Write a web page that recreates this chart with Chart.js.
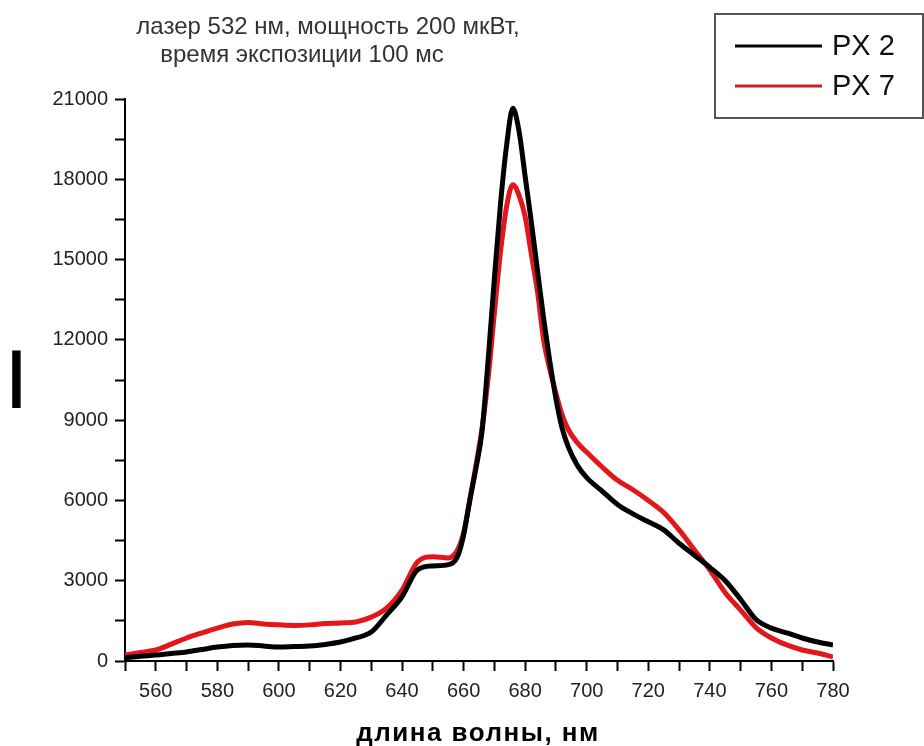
<!DOCTYPE html>
<html>
<head>
<meta charset="utf-8">
<script src="https://cdn.jsdelivr.net/npm/chart.js@4/dist/chart.umd.min.js"></script>
<style>
  html, body { margin: 0; padding: 0; background: #fff; }
  #wrap { width: 924px; height: 746px; }
</style>
</head>
<body>
<div id="wrap"><canvas id="spectrum" width="924" height="746"></canvas></div>
<script>
// Спектры люминесценции, значения

const wavelengths = [
  550, 555, 560, 565, 570, 575, 580, 585, 590, 595, 600, 605, 610, 615, 620, 625,
  630, 635, 640, 645, 650, 655, 658, 660, 662, 664, 666, 668, 670, 672, 674, 676,
  678, 680, 682, 684, 686, 688, 690, 692, 694, 697, 700, 705, 710, 715, 720, 725,
  730, 735, 740, 745, 750, 755, 760, 765, 770, 775, 780
];

const px2Values = [
  120, 180, 220, 280, 340, 430, 520, 580, 600, 560, 520, 540, 560, 620, 710, 860,
  1080, 1720, 2400, 3400, 3550, 3600, 3900, 4700, 6000, 7200, 8600, 11300, 14300, 17100, 19300, 20650,
  19800, 18100, 16400, 14600, 12800, 11200, 9800, 8700, 8000, 7300, 6850, 6350, 5850, 5500, 5200, 4900,
  4400, 3950, 3500, 3000, 2300, 1550, 1230, 1050, 860, 710, 600
];

const px7Values = [
  220, 320, 410, 630, 860, 1050, 1230, 1380, 1440, 1380, 1350, 1330, 1350, 1400, 1420, 1460,
  1640, 1980, 2650, 3700, 3900, 3850, 4150, 4800, 6000, 7300, 8700, 10600, 13000, 15300, 17000, 17800,
  17400, 16600, 15200, 13800, 12000, 10900, 10000, 9200, 8650, 8150, 7800, 7250, 6750, 6400, 6000, 5550,
  4900, 4150, 3400, 2550, 1900, 1250, 860, 600, 410, 300, 150
];

const seriesLabels = ['PX 2', 'PX 7'];
const titleLines = ['лазер 532 нм, мощность 200 мкВт,', 'время экспозиции 100 мс'];
const xAxisTitle = 'длина волны, нм';
const yAxisTitle = 'I';

const xMajorStep = 20, xMinorStep = 10;
const yMajorStep = 3000, yMinorStep = 1500;

function toPoints(values) {
  return wavelengths.map((w, i) => ({ x: w, y: values[i] }));
}

const fontFamily = '"Liberation Sans", Arial, sans-serif';

// подписи и легенда рисуются поверх
const decorations = {
  id: 'decorations',
  afterDraw(chart) {
    const ctx = chart.ctx;
    ctx.save();

    // заголовок
    ctx.fillStyle = '#333';
    ctx.font = '24px ' + fontFamily;
    ctx.textAlign = 'center';
    ctx.textBaseline = 'middle';
    ctx.fillText(titleLines[0], 328, 27);
    ctx.fillText(titleLines[1], 302, 55);

    // подпись оси X
    ctx.fillStyle = '#000';
    ctx.font = 'bold 26px ' + fontFamily;
    ctx.letterSpacing = '1.5px';
    ctx.fillText(xAxisTitle, 478, 734);
    ctx.letterSpacing = '0px';

    // буква I у оси Y
    ctx.save();
    ctx.translate(16.5, 408);
    ctx.scale(0.7, 1);
    ctx.font = 'bold 84px ' + fontFamily;
    ctx.textBaseline = 'alphabetic';
    ctx.fillText(yAxisTitle, 0, 0);
    ctx.restore();

    // легенда
    ctx.strokeStyle = '#555';
    ctx.lineWidth = 2;
    ctx.strokeRect(715, 14, 208, 104);
    const legendColors = ['#000', '#c8202a'];
    const rows = [46, 86];
    ctx.font = '29px ' + fontFamily;
    ctx.textAlign = 'left';
    ctx.textBaseline = 'middle';
    chart.data.datasets.forEach((ds, i) => {
      ctx.strokeStyle = legendColors[i];
      ctx.lineWidth = 3;
      ctx.beginPath();
      ctx.moveTo(735, rows[i]);
      ctx.lineTo(822, rows[i]);
      ctx.stroke();
      ctx.fillStyle = '#111';
      ctx.fillText(ds.label, 832, rows[i] + 1);
    });

    ctx.restore();
  }
};

const tickFont = { family: fontFamily, size: 20 };

new Chart(document.getElementById('spectrum').getContext('2d'), {
  type: 'line',
  data: {
    datasets: [
      {
        label: seriesLabels[0],
        data: toPoints(px2Values),
        borderColor: '#000',
        borderWidth: 5,
        pointRadius: 0,
        cubicInterpolationMode: 'monotone',
        fill: false
      },
      {
        label: seriesLabels[1],
        data: toPoints(px7Values),
        borderColor: '#e3161c',
        borderWidth: 5,
        pointRadius: 0,
        cubicInterpolationMode: 'monotone',
        fill: false
      }
    ]
  },
  options: {
    responsive: false,
    animation: false,
    layout: { padding: { left: 0, top: 99, right: 91, bottom: 0 } },
    plugins: {
      legend: { display: false },
      title: { display: false },
      tooltip: { enabled: false }
    },
    scales: {
      x: {
        type: 'linear',
        min: 550,
        max: 780,
        afterFit: s => { s.height = 85; },
        border: { color: '#000', width: 2 },
        grid: { drawOnChartArea: false, drawTicks: true, tickLength: 10, tickColor: '#000', tickWidth: 2 },
        ticks: {
          stepSize: xMinorStep,
          autoSkip: false,
          maxRotation: 0,
          padding: 8,
          color: '#222',
          font: tickFont,
          callback: v => (v % xMajorStep === 0 ? v : '')
        }
      },
      y: {
        min: 0,
        max: 21000,
        afterFit: s => { s.width = 125; },
        border: { color: '#000', width: 2 },
        grid: { drawOnChartArea: false, drawTicks: true, tickLength: 10, tickColor: '#000', tickWidth: 2 },
        ticks: {
          stepSize: yMinorStep,
          autoSkip: false,
          padding: 7,
          color: '#222',
          font: tickFont,
          callback: v => (v % yMajorStep === 0 ? v : '')
        }
      }
    }
  },
  plugins: [decorations]
});
</script>
</body>
</html>
